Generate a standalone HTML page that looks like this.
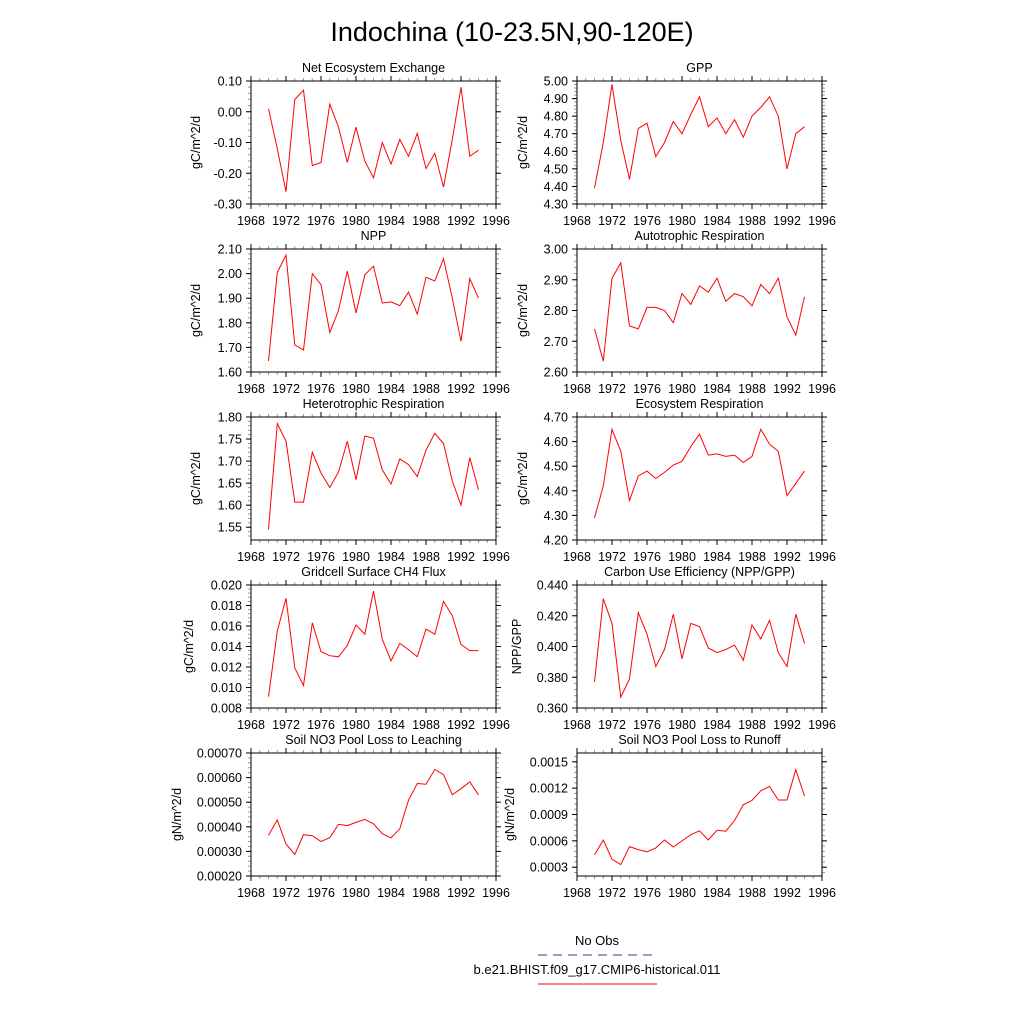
<!DOCTYPE html>
<html><head><meta charset="utf-8">
<style>body{margin:0;background:#fff}svg{display:block;font-family:"Liberation Sans",sans-serif}</style>
</head><body>
<svg id="fig" width="1024" height="1024" xmlns="http://www.w3.org/2000/svg">
<text x="512" y="41" font-size="27" text-anchor="middle">Indochina (10-23.5N,90-120E)</text>
<g id="panels"></g>
<text x="597" y="945" font-size="13" text-anchor="middle">No Obs</text>
<line x1="538" y1="955" x2="657" y2="955" stroke="#3a3a8a" stroke-width="1" stroke-dasharray="9,6"/>
<text x="597" y="974" font-size="13" text-anchor="middle">b.e21.BHIST.f09_g17.CMIP6-historical.011</text>
<line x1="538" y1="984" x2="657" y2="984" stroke="red" stroke-width="1"/>
</svg>
<script>
const years = [1970,1971,1972,1973,1974,1975,1976,1977,1978,1979,1980,1981,1982,1983,1984,1985,1986,1987,1988,1989,1990,1991,1992,1993,1994];
const xTicks = [1968,1972,1976,1980,1984,1988,1992,1996];
const neeValues = [0.01,-0.12,-0.26,0.04,0.07,-0.175,-0.165,0.025,-0.05,-0.165,-0.05,-0.16,-0.215,-0.10,-0.17,-0.09,-0.145,-0.07,-0.185,-0.135,-0.245,-0.09,0.08,-0.145,-0.125];
const gppValues = [4.39,4.65,4.98,4.66,4.44,4.73,4.76,4.57,4.65,4.77,4.70,4.81,4.91,4.74,4.79,4.70,4.78,4.68,4.80,4.85,4.91,4.80,4.50,4.70,4.74];
const nppValues = [1.645,2.005,2.075,1.71,1.69,2.0,1.955,1.76,1.85,2.01,1.84,1.995,2.03,1.88,1.885,1.87,1.925,1.835,1.985,1.97,2.06,1.9,1.725,1.98,1.90];
const arValues = [2.74,2.635,2.905,2.955,2.75,2.74,2.81,2.81,2.80,2.76,2.855,2.82,2.88,2.86,2.905,2.83,2.855,2.845,2.815,2.885,2.855,2.905,2.78,2.72,2.845];
const hrValues = [1.545,1.785,1.745,1.607,1.607,1.72,1.673,1.64,1.675,1.745,1.658,1.757,1.752,1.68,1.648,1.705,1.692,1.665,1.725,1.763,1.74,1.655,1.6,1.708,1.635];
const erValues = [4.29,4.42,4.65,4.56,4.36,4.46,4.48,4.45,4.475,4.505,4.52,4.58,4.63,4.545,4.55,4.54,4.545,4.515,4.54,4.65,4.59,4.56,4.38,4.43,4.48];
const ch4Values = [0.0091,0.0155,0.0187,0.0119,0.0102,0.0163,0.0135,0.0131,0.0130,0.0141,0.0161,0.0152,0.0194,0.0147,0.0126,0.0143,0.0137,0.0130,0.0157,0.0152,0.0184,0.0170,0.0142,0.0136,0.0136];
const cueValues = [0.377,0.431,0.415,0.367,0.379,0.422,0.408,0.387,0.398,0.421,0.392,0.415,0.413,0.399,0.396,0.398,0.401,0.391,0.414,0.405,0.417,0.396,0.387,0.421,0.402];
const leachValues = [0.000365,0.000428,0.00033,0.000288,0.000368,0.000364,0.00034,0.000356,0.00041,0.000405,0.000418,0.00043,0.000412,0.000372,0.000355,0.000392,0.000508,0.000576,0.000573,0.000633,0.000612,0.00053,0.000555,0.000583,0.00053];
const runoffValues = [0.00044,0.00061,0.00039,0.00033,0.000535,0.0005,0.000475,0.00052,0.00061,0.00053,0.0006,0.00067,0.000715,0.00061,0.00072,0.00071,0.00083,0.00101,0.00106,0.00117,0.00122,0.001065,0.001065,0.00141,0.00111];
const neeTicks = ["-0.30","-0.20","-0.10","0.00","0.10"];
const gppTicks = ["4.30","4.40","4.50","4.60","4.70","4.80","4.90","5.00"];
const nppTicks = ["1.60","1.70","1.80","1.90","2.00","2.10"];
const arTicks = ["2.60","2.70","2.80","2.90","3.00"];
const hrTicks = ["1.55","1.60","1.65","1.70","1.75","1.80"];
const erTicks = ["4.20","4.30","4.40","4.50","4.60","4.70"];
const ch4Ticks = ["0.008","0.010","0.012","0.014","0.016","0.018","0.020"];
const cueTicks = ["0.360","0.380","0.400","0.420","0.440"];
const leachTicks = ["0.00020","0.00030","0.00040","0.00050","0.00060","0.00070"];
const runoffTicks = ["0.0003","0.0006","0.0009","0.0012","0.0015"];

const panels = [
 {name:"nee",title:"Net Ecosystem Exchange",ylab:"gC/m^2/d",v:neeValues,t:neeTicks,min:-0.3,max:0.1,col:0,row:0,lx:200},
 {name:"gpp",title:"GPP",ylab:"gC/m^2/d",v:gppValues,t:gppTicks,min:4.3,max:5.0,col:1,row:0,lx:527},
 {name:"npp",title:"NPP",ylab:"gC/m^2/d",v:nppValues,t:nppTicks,min:1.6,max:2.1,col:0,row:1,lx:200},
 {name:"ar",title:"Autotrophic Respiration",ylab:"gC/m^2/d",v:arValues,t:arTicks,min:2.6,max:3.0,col:1,row:1,lx:527},
 {name:"hr",title:"Heterotrophic Respiration",ylab:"gC/m^2/d",v:hrValues,t:hrTicks,min:1.521,max:1.8,col:0,row:2,lx:200},
 {name:"er",title:"Ecosystem Respiration",ylab:"gC/m^2/d",v:erValues,t:erTicks,min:4.2,max:4.7,col:1,row:2,lx:527},
 {name:"ch4",title:"Gridcell Surface CH4 Flux",ylab:"gC/m^2/d",v:ch4Values,t:ch4Ticks,min:0.008,max:0.02,col:0,row:3,lx:193},
 {name:"cue",title:"Carbon Use Efficiency (NPP/GPP)",ylab:"NPP/GPP",v:cueValues,t:cueTicks,min:0.36,max:0.44,col:1,row:3,lx:521},
 {name:"leach",title:"Soil NO3 Pool Loss to Leaching",ylab:"gN/m^2/d",v:leachValues,t:leachTicks,min:0.0002,max:0.0007,col:0,row:4,lx:181},
 {name:"runoff",title:"Soil NO3 Pool Loss to Runoff",ylab:"gN/m^2/d",v:runoffValues,t:runoffTicks,min:0.0002,max:0.0016,col:1,row:4,lx:514}
];
const colX = [[251,496],[577,822]];
const rowY = [[81,204],[249,372],[417,540],[585,708],[753,876]];
const NS = "http://www.w3.org/2000/svg";
const root = document.getElementById("panels");
function mk(tag, attrs, parent){const e=document.createElementNS(NS,tag);for(const k in attrs)e.setAttribute(k,attrs[k]);parent.appendChild(e);return e;}
panels.forEach(p=>{
 const [x0,x1]=colX[p.col], [y0,y1]=rowY[p.row];
 const sx = yr => x0+(yr-1968)/(1996-1968)*(x1-x0);
 const sy = v => y1-(v-p.min)/(p.max-p.min)*(y1-y0);
 const g = mk("g",{},root);
 
 
 const ttl = mk("text",{x:(x0+x1)/2,y:y0-9,"font-size":12.5,"text-anchor":"middle"},g);
 ttl.textContent=p.title;
 
 
 for(let yr=1968;yr<=1996;yr++){
  const x=sx(yr), maj=(yr%4===0);
  const l=maj?5:3;
  mk("line",{x1:x,y1:y1,x2:x,y2:y1+l,stroke:maj?"#000":"#999"},g);
  mk("line",{x1:x,y1:y0,x2:x,y2:y0-l,stroke:maj?"#000":"#999"},g);
 }
 xTicks.forEach(yr=>{
  const t=mk("text",{x:sx(yr),y:y1+21,"font-size":12.5,"text-anchor":"middle"},g);
  t.textContent=yr;
  
  
 });
 const tv=p.t.map(Number);
 const step=tv[1]-tv[0];
 for(let v=tv[0]-step;v<=tv[tv.length-1]+step+1e-12;v+=step/5){
  if(v<p.min-1e-12||v>p.max+1e-12)continue;
  const y=sy(v);
  mk("line",{x1:x0,y1:y,x2:x0-3,y2:y,stroke:"#999"},g);
  mk("line",{x1:x1,y1:y,x2:x1+3,y2:y,stroke:"#999"},g);
 }
 p.t.forEach(s=>{
  const y=sy(Number(s));
  mk("line",{x1:x0,y1:y,x2:x0-5,y2:y,stroke:"#000"},g);
  mk("line",{x1:x1,y1:y,x2:x1+5,y2:y,stroke:"#000"},g);
  const t=mk("text",{x:x0-9,y:y+4.5,"font-size":12.5,"text-anchor":"end"},g);
  t.textContent=s;
  
  
 });
 const yl=mk("text",{x:0,y:0,"font-size":12.5,"text-anchor":"middle",transform:`translate(${p.lx},${(y0+y1)/2}) rotate(-90)`},g);
 yl.textContent=p.ylab;
 
 
 const fr=mk("rect",{x:x0,y:y0,width:x1-x0,height:y1-y0,fill:"none",stroke:"#000","stroke-width":1},g);
 
 
 const pts=p.v.map((v,i)=>sx(years[i]).toFixed(1)+","+sy(v).toFixed(1)).join(" ");
 const ln=mk("polyline",{points:pts,fill:"none",stroke:"red","stroke-width":1},g);
 
 
});
</script>
</body></html>
